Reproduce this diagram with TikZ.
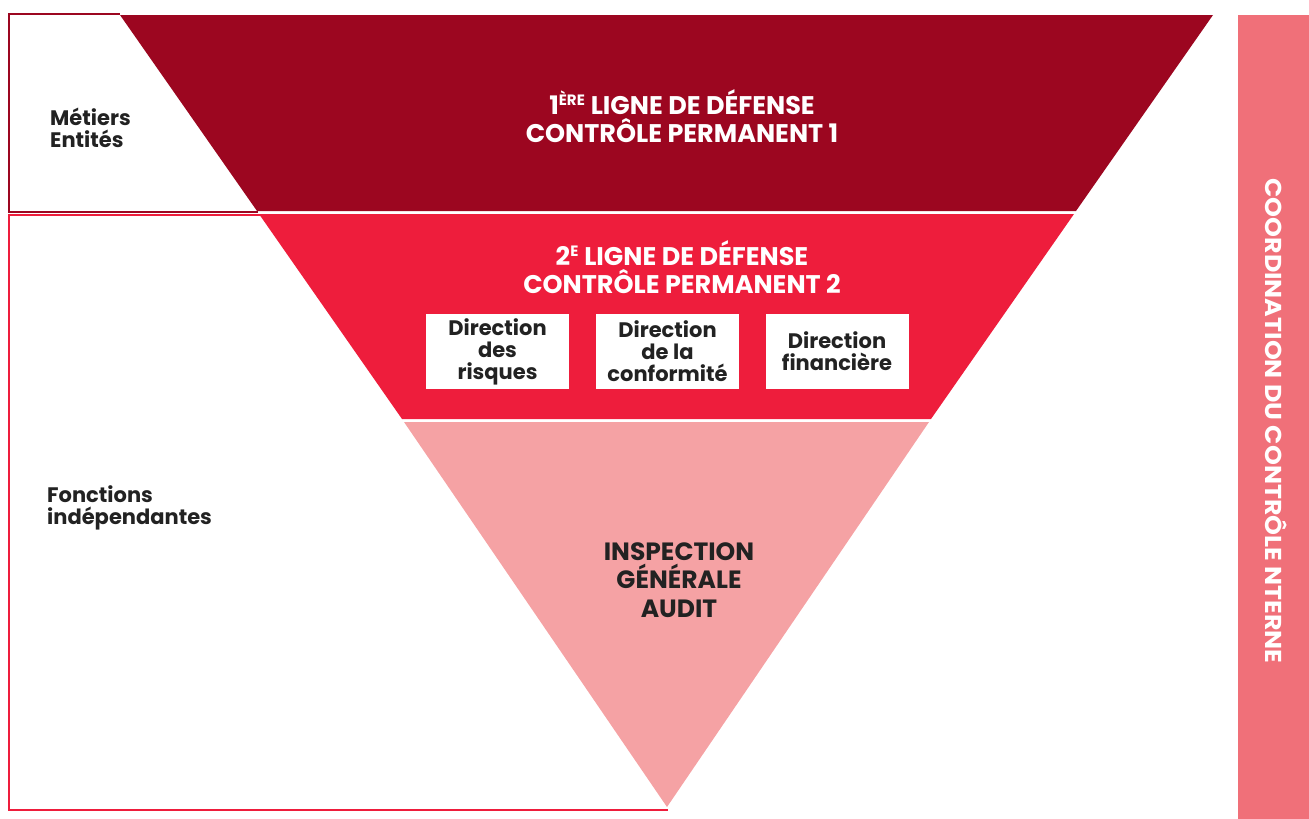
\documentclass[tikz,border=0pt]{standalone}
\usepackage{fontspec}
\setmainfont{Poppins}
\definecolor{band1}{HTML}{9C0620}
\definecolor{band2}{HTML}{EE1D3C}
\definecolor{band3}{HTML}{F5A2A4}
\definecolor{sidebar}{HTML}{F07079}
\definecolor{txt}{HTML}{222222}
\tikzset{
  band/.style={draw=none},
  headtxt/.style={text=white,font=\fontsize{25.5}{28}\selectfont\bfseries,align=center},
  boxtxt/.style={fill=white,text=txt,font=\fontsize{21}{22}\selectfont\bfseries,align=center,minimum width=143pt,minimum height=75pt,inner sep=0pt},
  sidetxt/.style={text=txt,font=\fontsize{21}{22.5}\selectfont\bfseries,align=left,anchor=west,inner sep=0pt},
}
\begin{document}
\begin{tikzpicture}[x=1pt,y=-1pt]
\useasboundingbox (0,0) rectangle (1309,819);
% frames
\draw[band1,line width=2.4pt] (120,14) -- (9,14) -- (9,212) -- (258,212);
\draw[band2,line width=2.4pt] (260,215) -- (9,215) -- (9,810) -- (668,810);
% bands
\fill[band1] (120,15) -- (1213,15) -- (1076,211) -- (257,211) -- cycle;
\fill[band2] (259,214) -- (1074,214) -- (931,419) -- (402,419) -- cycle;
\fill[band3] (404,422) -- (929,422) -- (667,807) -- cycle;
% side bar
\fill[sidebar] (1238,15) rectangle (1309,819);
% titles
\node[headtxt] (l1) at (682,116) {1\textsuperscript{\fontsize{15}{15}\selectfont ÈRE} LIGNE DE DÉFENSE\\CONTRÔLE PERMANENT 1};
\node[headtxt] (l2) at (682,267) {2\textsuperscript{\fontsize{15}{15}\selectfont E} LIGNE DE DÉFENSE\\CONTRÔLE PERMANENT 2};
\node[boxtxt] (d1) at (497.5,351.5) {Direction\\des\\risques};
\node[boxtxt] (d2) at (667.5,351.5) {Direction\\de la\\conformité};
\node[boxtxt] (d3) at (837,351.5) {Direction\\financière};
\node[text=txt,font=\fontsize{25}{28.5}\selectfont\bfseries,align=center] (ig) at (679,580) {INSPECTION\\GÉNÉRALE\\AUDIT};
\node[sidetxt] (me) at (50,128) {Métiers\\Entités};
\node[sidetxt] (fi) at (47,508) {Fonctions\\indépendantes};
\node[text=white,font=\fontsize{23}{26}\selectfont\bfseries,rotate=-90] (cci) at (1276,421) {\scalebox{1.1}[1]{COORDINATION DU CONTRÔLE NTERNE}};
\end{tikzpicture}
\end{document}
